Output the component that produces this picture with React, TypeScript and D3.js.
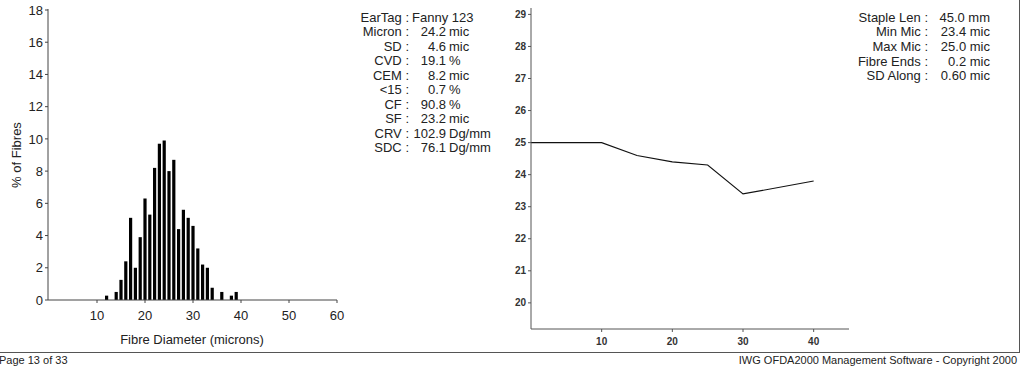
import React from "react";
import * as d3 from "d3";

// histogram: fibre diameter (microns) vs % of fibres
const microns = [12, 14, 15, 16, 17, 18, 19, 20, 21, 22, 23, 24, 25, 26, 27, 28, 29, 30, 31, 32, 33, 34, 36, 38, 39];
const percents = [0.27, 0.5, 1.25, 2.4, 5.1, 2.0, 3.9, 6.3, 5.3, 8.2, 9.7, 9.9, 8.0, 8.7, 4.4, 5.6, 5.1, 4.6, 3.2, 2.2, 2.0, 0.76, 0.5, 0.27, 0.5];
const histYTicks = [0, 2, 4, 6, 8, 10, 12, 14, 16, 18];
const histXTicks = [10, 20, 30, 40, 50, 60];

// profile along staple
const positions = [0, 5, 10, 15, 20, 25, 30, 40];
const profileMic = [25.0, 25.0, 25.0, 24.6, 24.4, 24.3, 23.4, 23.8];
const profYTicks = [20, 21, 22, 23, 24, 25, 26, 27, 28, 29];
const profXTicks = [10, 20, 30, 40];

const statLabels = ["EarTag", "Micron", "SD", "CVD", "CEM", "<15", "CF", "SF", "CRV", "SDC"];
const statNums = ["Fanny 123", "24.2", "4.6", "19.1", "8.2", "0.7", "90.8", "23.2", "102.9", "76.1"];
const statUnits = ["", "mic", "mic", "%", "mic", "%", "%", "mic", "Dg/mm", "Dg/mm"];

const lenLabels = ["Staple Len", "Min Mic", "Max Mic", "Fibre Ends", "SD Along"];
const lenValues = ["45.0 mm", "23.4 mic", "25.0 mic", "0.2 mic", "0.60 mic"];

const FONT = "'Liberation Sans', Arial, sans-serif";
const INK = "#222";

const App = () => {
  const hx = d3.scaleLinear().domain([0, 60]).range([49, 337]);
  const hy = d3.scaleLinear().domain([0, 18]).range([300, 10]);
  const px = d3.scaleLinear().domain([0, 45]).range([531, 849]);
  const py = d3.scaleLinear().domain([19.2, 29.2]).range([328.5, 8]);
  const line = d3
    .line<number>()
    .x((d, i) => px(positions[i]))
    .y(d => py(d));

  return (
    <div style={{ position: "fixed", left: 0, top: 0 }}>
      <svg width={1024} height={375} style={{ display: "block", background: "#fff" }} fontFamily={FONT}>
        {/* histogram */}
        <g>
          {microns.map((m, i) => (
            <rect key={i} x={hx(m) - 1.6} y={hy(percents[i])} width={3.2} height={hy(0) - hy(percents[i])} fill="#000" />
          ))}
          <line x1={48} x2={48} y1={hy(18) - 1} y2={hy(0)} stroke="#444" />
          <line x1={48} x2={hx(60)} y1={hy(0)} y2={hy(0)} stroke="#444" />
          {histYTicks.map(t => (
            <g key={t}>
              <line x1={45} x2={48} y1={hy(t)} y2={hy(t)} stroke="#444" />
              <text x={43} y={hy(t)} dy="0.36em" textAnchor="end" fontSize={13} fill={INK}>{t}</text>
            </g>
          ))}
          {histXTicks.map(t => (
            <g key={t}>
              <line x1={hx(t)} x2={hx(t)} y1={hy(0)} y2={hy(0) + 3} stroke="#444" />
              <text x={hx(t)} y={320} textAnchor="middle" fontSize={13} fill={INK}>{t}</text>
            </g>
          ))}
          <text transform="translate(21,155) rotate(-90)" textAnchor="middle" fontSize={13} fill={INK}>% of Fibres</text>
          <text x={192} y={344} textAnchor="middle" fontSize={13} fill={INK}>Fibre Diameter (microns)</text>
        </g>

        {/* stats block */}
        <g fontSize={13} fill={INK}>
          {statLabels.map((l, i) => (
            <g key={l}>
              <text x={409} y={21.5 + i * 14.5} textAnchor="end">{l} :</text>
              {i === 0 ? (
                <text x={412} y={21.5}>{statNums[i]}</text>
              ) : (
                <>
                  <text x={446} y={21.5 + i * 14.5} textAnchor="end">{statNums[i]}</text>
                  <text x={449} y={21.5 + i * 14.5}>{statUnits[i]}</text>
                </>
              )}
            </g>
          ))}
        </g>

        {/* profile chart */}
        <g>
          <path d={line(profileMic) || ""} fill="none" stroke="#111" strokeWidth={1.1} />
          <line x1={531} x2={531} y1={8} y2={329} stroke="#555" />
          <line x1={531} x2={849} y1={329} y2={329} stroke="#555" />
          {profYTicks.map(t => (
            <g key={t}>
              <line x1={528} x2={531} y1={py(t)} y2={py(t)} stroke="#555" />
              <text x={526} y={py(t)} dy="0.36em" textAnchor="end" fontSize={10} fontWeight="bold" fill="#333">{t}</text>
            </g>
          ))}
          {profXTicks.map(t => (
            <g key={t}>
              <line x1={px(t)} x2={px(t)} y1={329} y2={332} stroke="#555" />
              <text x={px(t)} y={345} textAnchor="middle" fontSize={10} fontWeight="bold" fill="#333">{t}</text>
            </g>
          ))}
        </g>

        {/* length block */}
        <g fontSize={13} fill={INK}>
          {lenLabels.map((l, i) => (
            <g key={l}>
              <text x={928} y={21.5 + i * 14.7} textAnchor="end">{l} :</text>
              <text x={990} y={21.5 + i * 14.7} textAnchor="end">{lenValues[i]}</text>
            </g>
          ))}
        </g>

        {/* page frame & footer */}
        <line x1={1019.5} x2={1019.5} y1={0} y2={352.5} stroke="#555" />
        <line x1={0} x2={1020} y1={352.5} y2={352.5} stroke="#555" />
        <text x={-1} y={364} fontSize={11} fill={INK}>Page 13 of 33</text>
        <text x={1017} y={364} textAnchor="end" fontSize={11} fill={INK}>IWG OFDA2000 Management Software - Copyright 2000</text>
      </svg>
    </div>
  );
};

export default App;
